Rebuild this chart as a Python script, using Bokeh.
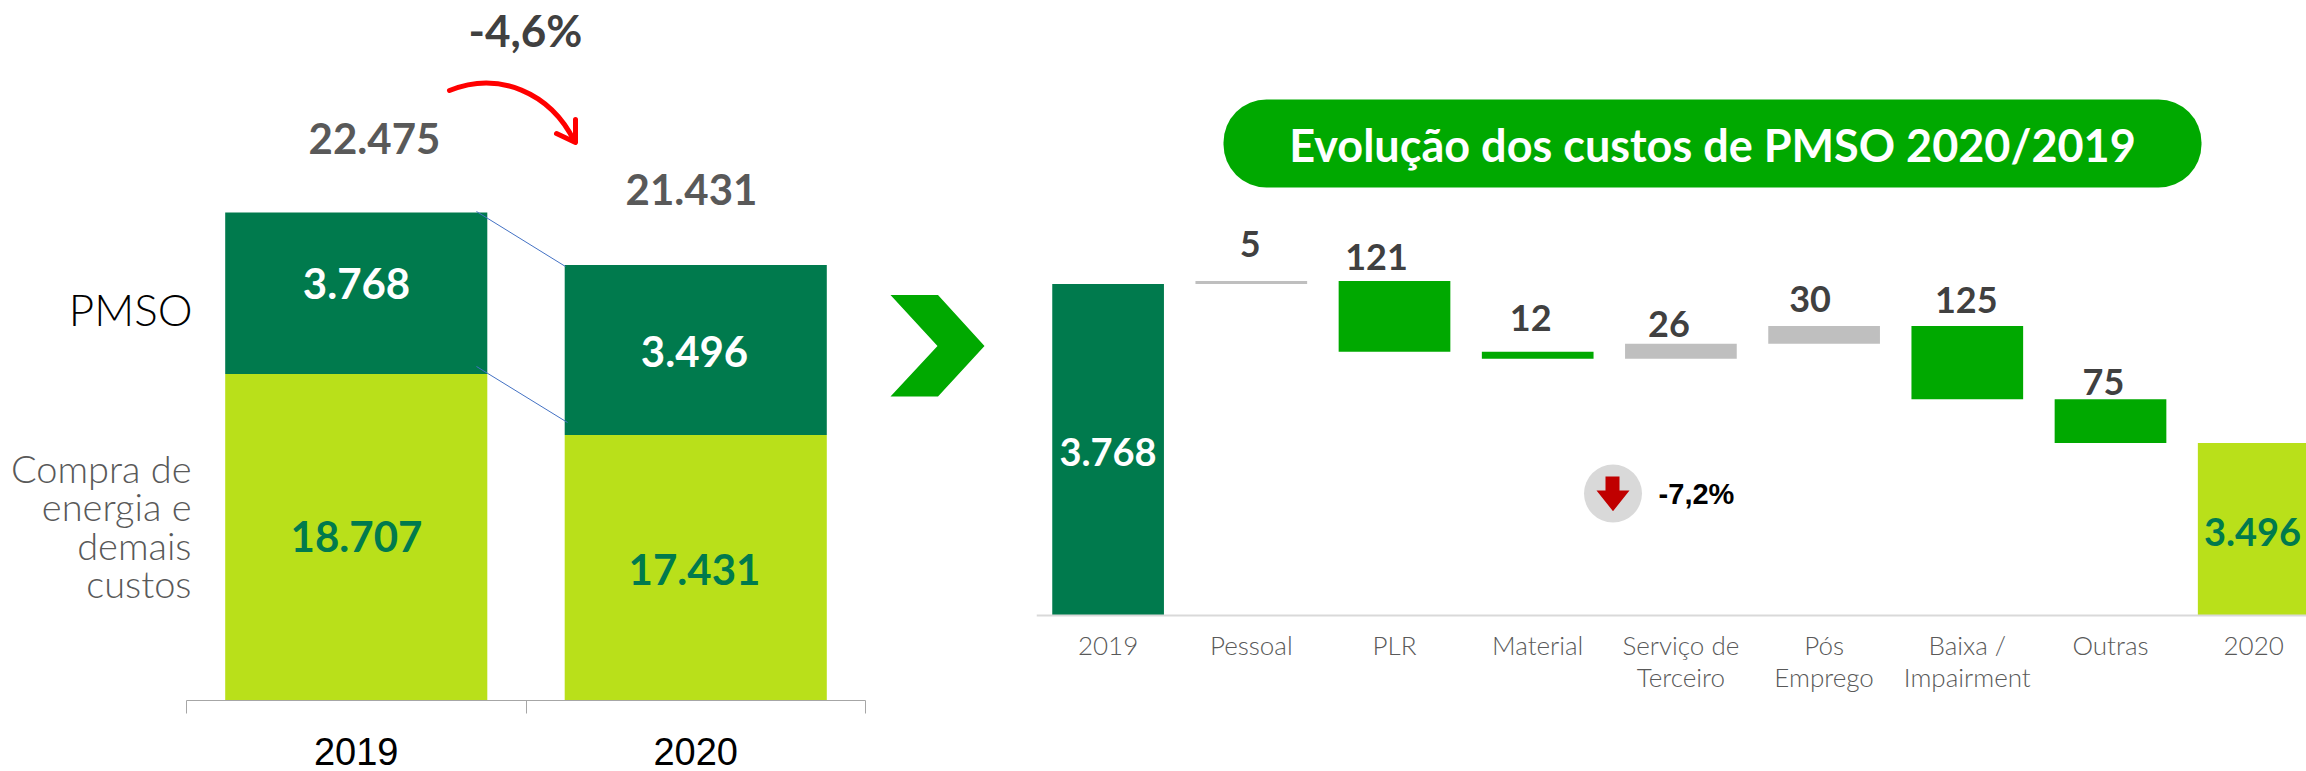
from bokeh.embed import file_html
from bokeh.resources import INLINE
from bokeh.plotting import figure
from bokeh.layouts import row
from bokeh.models import Range1d, FixedTicker, BoxAnnotation, ColumnDataSource
from bokeh.core.properties import value

# ---------- data ----------
years = ["2019", "2020"]
pmso_values = [3768, 3496]
other_values = [18707, 17431]
total_values = [22475, 21431]
# the reference's stacked bars are not to scale with their labels: heights as drawn
pmso_drawn = [161.5, 170]
other_drawn = [326.5, 265.5]
change_total = "-4,6%"

steps = ["2019", "Pessoal", "PLR", "Material", "Serviço de\nTerceiro", "Pós\nEmprego",
         "Baixa /\nImpairment", "Outras", "2020"]
step_deltas = [5, -121, -12, 26, 30, -125, -75]
start_value = 3768
end_value = 3496
change_pmso = "-7,2%"
title_text = "Evolução dos custos de PMSO 2020/2019"

DARK = "#007A4D"
LIME = "#B9E01A"
GREEN = "#00A900"
GRAY = "#BFBFBF"
FONT = "Lato"
LIGHT = "Lato Light"

def fmt(v):
    return f"{v:,}".replace(",", ".")

# ---------- left figure: page x 0..1036 ----------
UNIT = 339.5
def lx(px):
    return (px - 186) / UNIT
def ly(py):
    return 700 - py

left = figure(width=1036, height=771, output_backend="svg", toolbar_location=None,
              x_range=Range1d(lx(0), lx(1036)), y_range=Range1d(ly(771), ly(0)),
              min_border_left=0, min_border_right=0, min_border_top=0, min_border_bottom=0,
              outline_line_color=None)
left.grid.visible = False
left.yaxis.visible = False
ax = left.xaxis[0]
ax.fixed_location = 0
ax.bounds = (0, 2)
ax.ticker = FixedTicker(ticks=[0.5, 1.5], minor_ticks=[0, 1, 2])
ax.major_label_overrides = {0.5: years[0], 1.5: years[1]}
ax.major_tick_in = 0
ax.major_tick_out = 0
ax.minor_tick_in = 0
ax.minor_tick_out = 13
ax.axis_line_color = "#A6A6A6"
ax.minor_tick_line_color = "#A6A6A6"
ax.major_label_text_font = "Liberation Sans"
ax.major_label_text_font_size = "38px"
ax.major_label_text_color = "#000000"
ax.major_label_standoff = 24

xs = [0.5, 1.5]
left.vbar(x=xs, width=0.772, bottom=0, top=other_drawn, fill_color=LIME, line_color=None)
tops = [a + b for a, b in zip(other_drawn, pmso_drawn)]
left.vbar(x=xs, width=0.772, bottom=other_drawn, top=tops, fill_color=DARK, line_color=None)

# connectors
left.line([lx(476), lx(565)], [ly(211), ly(266)], line_color="#4472C4", line_width=1)
left.line([lx(476), lx(567)], [ly(366), ly(422)], line_color="#4472C4", line_width=1)

def ltext(px, py, txt, size, color, bold=True, align="center", font=FONT):
    left.text([lx(px)], [ly(py)], text=[txt], text_font=value(font), text_font_size=size,
              text_color=color, text_font_style="bold" if bold else "normal",
              text_align=align, text_baseline="middle")

ltext(356, 283, fmt(pmso_values[0]), "42px", "#FFFFFF")
ltext(694, 351, fmt(pmso_values[1]), "42px", "#FFFFFF")
ltext(356, 536, fmt(other_values[0]), "42px", DARK)
ltext(694, 569, fmt(other_values[1]), "42px", DARK)
ltext(374, 138, fmt(total_values[0]), "42px", "#595959")
ltext(691, 189, fmt(total_values[1]), "42px", "#595959")
ltext(525, 29, change_total, "44px", "#404040")
ltext(192, 308, "PMSO", "44px", "#000000", bold=False, align="right", font=LIGHT)
for py, line in zip([467, 505, 544, 582], ["Compra de", "energia e", "demais", "custos"]):
    ltext(191, py, line, "38px", "#595959", bold=False, align="right", font=LIGHT)

# red arrow
left.bezier(x0=[lx(449)], y0=[ly(90)], x1=[lx(574)], y1=[ly(141)],
            cx0=[lx(498)], cy0=[ly(70)], cx1=[lx(550)], cy1=[ly(92)],
            line_color="#FF0000", line_width=5, line_cap="round")
left.line([lx(556), lx(575), lx(575)], [ly(133), ly(142), ly(119)],
          line_color="#FF0000", line_width=5, line_cap="round", line_join="round")

# chevron
left.patch([lx(v) for v in [890, 937.5, 984, 937.5, 890, 937]],
           [ly(v) for v in [294.6, 294.6, 345.5, 396, 396, 345.5]],
           fill_color=GREEN, line_color=None)

# ---------- right figure: page x 1036..2306 ----------
STEP = 143.2
SCALE = 159 / 272  # pixels per unit of the truncated axis
def rx(px):
    return (px - 1107.6) / STEP
def ry(py):
    return start_value - (py - 283.5) / SCALE
AXIS_BASE = ry(615)

right = figure(width=1270, height=771, output_backend="svg", toolbar_location=None,
               x_range=Range1d(rx(1036), rx(2306)), y_range=Range1d(ry(771), ry(0)),
               min_border_left=0, min_border_right=0, min_border_top=0, min_border_bottom=0,
               outline_line_color=None)
right.grid.visible = False
right.yaxis.visible = False
rax = right.xaxis[0]
rax.fixed_location = AXIS_BASE
rax.ticker = FixedTicker(ticks=list(range(len(steps))))
rax.major_label_overrides = {i: s for i, s in enumerate(steps)}
rax.major_tick_line_color = None
rax.minor_tick_line_color = None
rax.axis_line_color = "#D9D9D9"
rax.axis_line_width = 2
rax.major_label_text_font = LIGHT
rax.major_label_text_font_size = "26px"
rax.major_label_text_color = "#595959"
rax.major_label_text_line_height = 1.0
rax.major_label_standoff = 7

# waterfall computed from deltas
level = start_value
bottoms, wtops, colors = [], [], []
for d in step_deltas:
    new = level + d
    bottoms.append(min(level, new))
    wtops.append(max(level, new))
    colors.append(GRAY if d > 0 else GREEN)
    level = new

WIDTH = 0.78
right.vbar(x=[0], width=WIDTH, bottom=AXIS_BASE, top=[start_value], fill_color=DARK, line_color=None)
right.vbar(x=[8], width=WIDTH, bottom=AXIS_BASE, top=[end_value], fill_color=LIME, line_color=None)
right.vbar(x=list(range(1, 8)), width=WIDTH, bottom=bottoms, top=wtops, fill_color=colors, line_color=None)

lab_dx = [-1, -18, -7, -12, -14, -1, -7]
lab_dy = [37, 24, 34, 20, 27, 26, 17]
src = ColumnDataSource(dict(x=list(range(1, 8)), y=wtops, t=[str(abs(d)) for d in step_deltas],
                            dx=lab_dx, dy=[-v for v in lab_dy]))
right.text(x="x", y="y", text="t", source=src, x_offset="dx", y_offset="dy",
           text_font=value(FONT), text_font_size="36px", text_font_style="bold",
           text_color="#404040", text_align="center", text_baseline="middle")

def rtext(px, py, txt, size, color, font=FONT):
    right.text([rx(px)], [ry(py)], text=[txt], text_font=value(font), text_font_size=size,
               text_color=color, text_font_style="bold", text_align="center", text_baseline="middle")

rtext(1107.5, 451, fmt(start_value), "38px", "#FFFFFF")
rtext(2252, 531, fmt(end_value), "38px", DARK)

# title pill
right.add_layout(BoxAnnotation(left=rx(1223), right=rx(2201), top=ry(99), bottom=ry(187),
                               fill_color=GREEN, fill_alpha=1, line_color=None,
                               border_radius=43, level="underlay"))
rtext(1712, 144, title_text, "45px", "#FFFFFF")

# badge
right.scatter([rx(1612.5)], [ry(493)], size=58, marker="circle", fill_color="#D9D9D9", line_color=None)
right.patch([rx(v) for v in [1605, 1619, 1619, 1629, 1612.5, 1596, 1605]],
            [ry(v) for v in [476, 476, 490, 490, 510.7, 490, 490]],
            fill_color="#C00000", line_color=None)
rtext(1696, 493, change_pmso, "29px", "#000000", font="Liberation Sans")

page = row(left, right, spacing=0)
open("out.html", "w").write(file_html(page, INLINE))
